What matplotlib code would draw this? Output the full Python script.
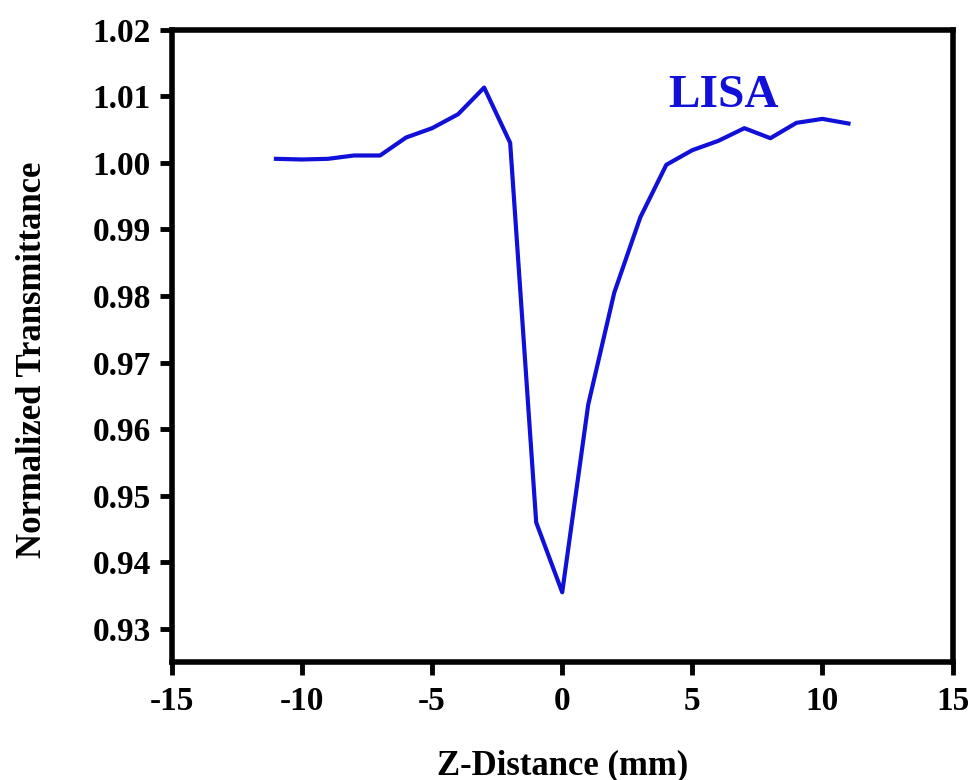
import numpy as np
import matplotlib.pyplot as plt

# Z-scan open aperture data, LISA sample
z_mm = [-11, -10, -9, -8, -7, -6, -5, -4, -3, -2, -1, 0,
        1, 2, 3, 4, 5, 6, 7, 8, 9, 10, 11]
t_norm = [1.0006, 1.0005, 1.0006, 1.0011, 1.0011, 1.0038, 1.0052, 1.0073,
          1.0113, 1.0030, 0.9460, 0.9355,
          0.9637, 0.9805, 0.9918, 0.9997, 1.0019, 1.0033, 1.0052, 1.0037,
          1.0060, 1.0066, 1.0059]

xticks = [-15, -10, -5, 0, 5, 10, 15]
yticks = [0.93, 0.94, 0.95, 0.96, 0.97, 0.98, 0.99, 1.00, 1.01, 1.02]

plt.rcParams['font.family'] = ['Liberation Serif', 'DejaVu Serif']
plt.rcParams['font.weight'] = 'bold'

fig = plt.figure(figsize=(9.71, 7.80), dpi=100)
ax = fig.add_axes([0.177, 0.151, 0.804, 0.811])

ax.plot(z_mm, t_norm, color='#1010d8', lw=3.0)

ax.set_xlim(-15, 15)
ax.set_ylim(0.925, 1.02)
ax.set_xticks(xticks)
ax.set_xticklabels([str(v) for v in xticks])
ax.set_yticks(yticks)
ax.set_yticklabels(['%.2f' % v for v in yticks])

for s in ax.spines.values():
    s.set_linewidth(4)
ax.tick_params(axis='both', direction='out', length=9, width=3.5, labelsize=24)
ax.tick_params(axis='x', pad=8)
ax.tick_params(axis='y', pad=6)
ax.tick_params(top=False, right=False)

ax.set_xlabel('Z-Distance (mm)', fontsize=25, fontweight='bold')
ax.set_ylabel('Normalized Transmittance', fontsize=25, fontweight='bold')
ax.xaxis.set_label_coords(0.5, -0.137)
ax.yaxis.set_label_coords(-0.158, 0.478)

ax.text(6.2, 1.0101, 'LISA', color='#1010d8', fontsize=34, fontweight='bold',
        ha='center', va='center')

fig.savefig('out.png', dpi=100)
